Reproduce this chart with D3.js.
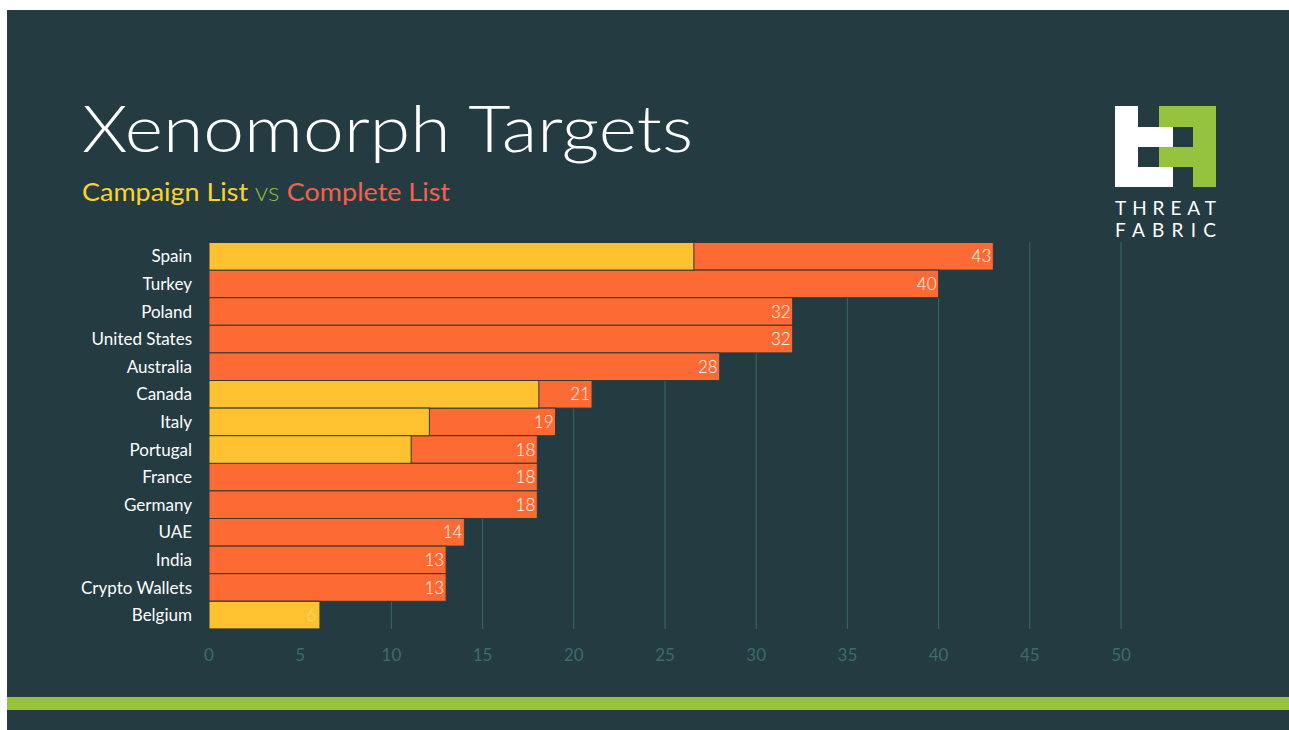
<!DOCTYPE html>
<html>
<head>
<meta charset="utf-8">
<script src="https://cdn.jsdelivr.net/npm/d3@7"></script>
<style>
  body { margin: 0; background: #fff; }
  svg { display: block; }
  text { font-family: Lato, "Open Sans", sans-serif; }
</style>
</head>
<body>
<svg id="chart" width="1289" height="730"></svg>
<script>
// data
var countries = ["Spain", "Turkey", "Poland", "United States", "Australia", "Canada", "Italy",
  "Portugal", "France", "Germany", "UAE", "India", "Crypto Wallets", "Belgium"];
var completeList = [43, 40, 32, 32, 28, 21, 19, 18, 18, 18, 14, 13, 13, 6];
var campaignList = [26.5, 0, 0, 0, 0, 18, 12, 11, 0, 0, 0, 0, 0, 6];
var ticks = [0, 5, 10, 15, 20, 25, 30, 35, 40, 45, 50];

var svg = d3.select('#chart');

// background panel
svg.append('rect')
  .attr('x', 7).attr('y', 10)
  .attr('width', 1282).attr('height', 720)
  .attr('fill', '#243b42');

// green strip at the bottom
svg.append('rect')
  .attr('x', 7).attr('y', 697)
  .attr('width', 1282).attr('height', 13)
  .attr('fill', '#97c23c');

// title
svg.append('text')
  .attr('x', 82).attr('y', 152)
  .attr('fill', '#ffffff')
  .attr('font-size', 66)
  .attr('font-weight', 300)
  .attr('textLength', 611)
  .attr('lengthAdjust', 'spacingAndGlyphs')
  .text('Xenomorph Targets');

var sub = svg.append('text')
  .attr('x', 82).attr('y', 201)
  .attr('font-size', 25)
  .attr('textLength', 368)
  .attr('lengthAdjust', 'spacingAndGlyphs');
sub.append('tspan').attr('fill', '#fdd22b').text('Campaign List');
sub.append('tspan').attr('fill', '#8fb83d').attr('font-weight', 300).text(' vs ');
sub.append('tspan').attr('fill', '#f7604a').text('Complete List');

// logo
var logo = svg.append('g');
var white = [[1115, 106, 23, 21], [1115, 127, 58, 20], [1115, 147, 23, 20], [1115, 167, 58, 20]];
var green = [[1159, 106, 57, 21], [1193, 127, 23, 60], [1159, 147, 34, 20]];
logo.selectAll('.g').data(green).enter().append('rect')
  .attr('x', function (d) { return d[0]; })
  .attr('y', function (d) { return d[1]; })
  .attr('width', function (d) { return d[2]; })
  .attr('height', function (d) { return d[3]; })
  .attr('fill', '#95c33d');
logo.selectAll('.w').data(white).enter().append('rect')
  .attr('x', function (d) { return d[0]; })
  .attr('y', function (d) { return d[1]; })
  .attr('width', function (d) { return d[2]; })
  .attr('height', function (d) { return d[3]; })
  .attr('fill', '#ffffff');
logo.append('text')
  .attr('x', 1115).attr('y', 215)
  .attr('fill', '#ffffff').attr('font-size', 19)
  .attr('textLength', 101)
  .text('THREAT');
logo.append('text')
  .attr('x', 1115).attr('y', 237)
  .attr('fill', '#ffffff').attr('font-size', 19)
  .attr('textLength', 101)
  .text('FABRIC');

// scales
var x = d3.scaleLinear().domain([0, 50]).range([209, 1121]);
var y = d3.scaleBand().domain(countries).range([242.5, 628.9]);

// grid lines
svg.selectAll('.grid')
  .data(ticks.slice(1))
  .enter()
  .append('line')
  .attr('x1', function (d) { return x(d); })
  .attr('x2', function (d) { return x(d); })
  .attr('y1', 242)
  .attr('y2', 629)
  .attr('stroke', '#3a6a67')
  .attr('stroke-width', 1);

// tick labels
svg.selectAll('.tick')
  .data(ticks)
  .enter()
  .append('text')
  .attr('x', function (d) { return x(d); })
  .attr('y', 661)
  .attr('text-anchor', 'middle')
  .attr('fill', '#3b6d69')
  .attr('font-size', 17)
  .text(function (d) { return d; });

var rows = countries.map(function (c, i) {
  return { name: c, complete: completeList[i], campaign: campaignList[i] };
});

// complete bars
svg.selectAll('.complete')
  .data(rows)
  .enter()
  .append('rect')
  .attr('x', x(0))
  .attr('y', function (d) { return y(d.name); })
  .attr('width', function (d) { return x(d.complete) - x(0); })
  .attr('height', y.bandwidth())
  .attr('fill', '#fe6a34')
  .attr('stroke', '#2d3b3b')
  .attr('stroke-width', 1);

// campaign bars on top
svg.selectAll('.campaign')
  .data(rows.filter(function (d) { return d.campaign > 0; }))
  .enter()
  .append('rect')
  .attr('x', x(0))
  .attr('y', function (d) { return y(d.name); })
  .attr('width', function (d) { return x(d.campaign) - x(0) + 1.5; })
  .attr('height', y.bandwidth())
  .attr('fill', '#fec231')
  .attr('stroke', '#2d3b3b')
  .attr('stroke-width', 1);

// value labels
svg.selectAll('.value')
  .data(rows)
  .enter()
  .append('text')
  .attr('x', function (d) { return x(d.complete) - 2; })
  .attr('y', function (d) { return y(d.name) + y.bandwidth() / 2 + 6; })
  .attr('text-anchor', 'end')
  .attr('fill', '#ffffff')
  .attr('fill-opacity', function (d) { return d.campaign >= d.complete ? 0.4 : 1; })
  .attr('font-size', 17)
  .attr('font-weight', 300)
  .text(function (d) { return d.complete; });

// category labels
svg.selectAll('.cat')
  .data(rows)
  .enter()
  .append('text')
  .attr('x', 192)
  .attr('y', function (d) { return y(d.name) + y.bandwidth() / 2 + 6; })
  .attr('text-anchor', 'end')
  .attr('fill', '#ffffff')
  .attr('font-size', 17)
  .text(function (d) { return d.name; });
</script>
</body>
</html>
